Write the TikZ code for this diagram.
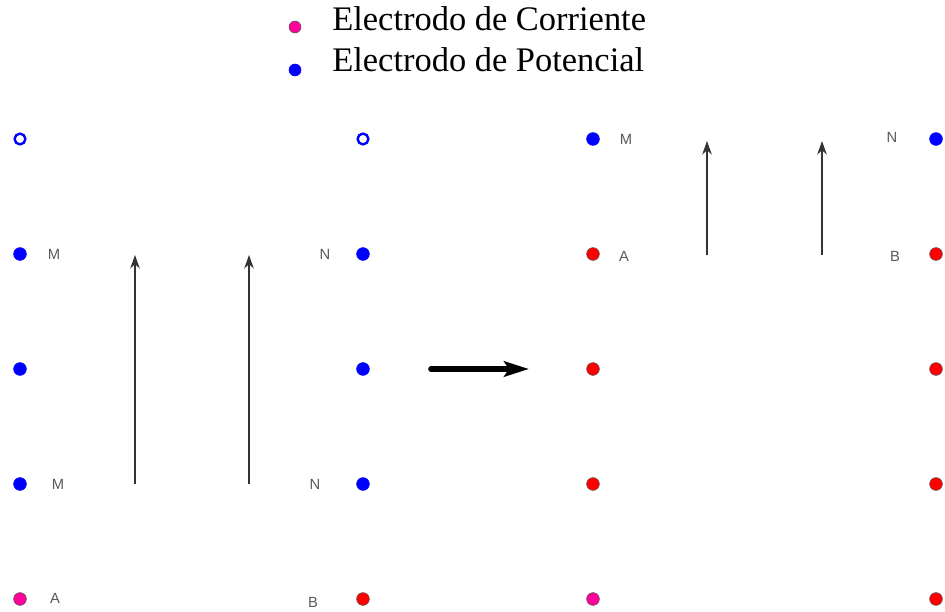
\documentclass[tikz,border=0pt]{standalone}
\usepackage{fontspec}
\setmainfont{Liberation Serif}
\newfontfamily\etiq{Liberation Sans}
\usetikzlibrary{arrows,arrows.meta,positioning}
\definecolor{magenta}{RGB}{255,0,153}
\definecolor{borde}{RGB}{90,90,90}
\tikzset{
    >=stealth',
    potencial/.style={
           circle,
           fill=blue, draw=blue,
           minimum size=0.32cm,
           inner sep=0pt},
    corriente/.style={
           circle,
           fill=magenta, draw=borde, thin,
           minimum size=0.32cm,
           inner sep=0pt},
    rojo/.style={
           circle,
           fill=red, draw=borde, thin,
           minimum size=0.32cm,
           inner sep=0pt},
    abierto/.style={
           circle,
           fill=white, draw=blue, line width=1.7pt,
           minimum size=0.27cm,
           inner sep=0pt},
    etiqueta/.style={
           font=\etiq\fontsize{10.5}{12}\selectfont,
           text=black!65,
           inner sep=0pt},
    leyenda/.style={
           anchor=base west,
           font=\fontsize{24.5}{28}\selectfont,
           inner sep=0pt},
    pil/.style={
           -{Stealth[length=3.4mm,width=2.4mm]},
           draw=black!80,
           line width=0.9pt}
}
\begin{document}
\begin{tikzpicture}[x=0.025cm, y=-0.025cm]
        \useasboundingbox (0,0) rectangle (945,611);
        % leyenda
        \node[corriente, minimum size=0.3cm] (leyC) at (295,27) {};
        \node[potencial, minimum size=0.3cm] (leyP) at (295,70) {};
        \node[leyenda] (txtC) at (332,31) {Electrodo de Corriente};
        \node[leyenda] (txtP) at (332,71) {Electrodo de Potencial};
        % antes
        \node[abierto] (i1) at (20,139) {};
        \node[potencial] (i2) at (20,254) {};
        \node[potencial] (i3) at (20,369) {};
        \node[potencial] (i4) at (20,484) {};
        \node[corriente] (i5) at (20,599) {};
        \node[abierto] (d1) at (363,139) {};
        \node[potencial] (d2) at (363,254) {};
        \node[potencial] (d3) at (363,369) {};
        \node[potencial] (d4) at (363,484) {};
        \node[rojo] (d5) at (363,599) {};
        \node[etiqueta] (iM1) at (54,254) {M};
        \node[etiqueta] (dN1) at (325,254) {N};
        \node[etiqueta] (iM2) at (58,484) {M};
        \node[etiqueta] (dN2) at (315,484) {N};
        \node[etiqueta] (iA) at (55,598) {A};
        \node[etiqueta] (dB) at (313,602) {B};
        \coordinate (f1a) at (135,484);
        \coordinate (f1b) at (135,255);
        \coordinate (f2a) at (249,484);
        \coordinate (f2b) at (249,255);
        \draw[pil] (f1a) -- (f1b);
        \draw[pil] (f2a) -- (f2b);
        % paso
        \coordinate (p1) at (431,369);
        \coordinate (p2) at (529,369);
        \draw[-{Stealth[length=0.62cm,width=0.38cm,inset=0.12cm]}, line width=4pt, line cap=round] (p1) -- (p2);
        % despues
        \node[potencial] (j1) at (593,139) {};
        \node[rojo] (j2) at (593,254) {};
        \node[rojo] (j3) at (593,369) {};
        \node[rojo] (j4) at (593,484) {};
        \node[corriente] (j5) at (593,599) {};
        \node[potencial] (k1) at (936,139) {};
        \node[rojo] (k2) at (936,254) {};
        \node[rojo] (k3) at (936,369) {};
        \node[rojo] (k4) at (936,484) {};
        \node[rojo] (k5) at (936,599) {};
        \node[etiqueta] (jM) at (626,139) {M};
        \node[etiqueta] (kN) at (892,137) {N};
        \node[etiqueta] (jA) at (624,256) {A};
        \node[etiqueta] (kB) at (895,256) {B};
        \coordinate (g1a) at (707,255);
        \coordinate (g1b) at (707,141);
        \coordinate (g2a) at (822,255);
        \coordinate (g2b) at (822,141);
        \draw[pil] (g1a) -- (g1b);
        \draw[pil] (g2a) -- (g2b);
\end{tikzpicture}
\end{document}
